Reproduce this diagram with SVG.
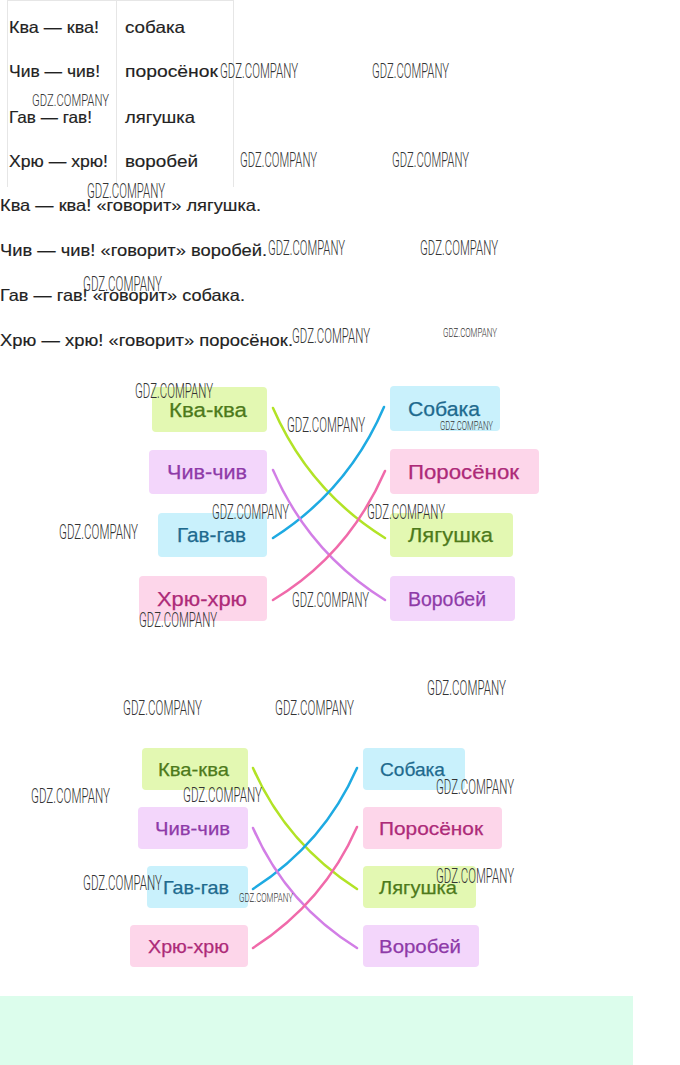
<svg xmlns="http://www.w3.org/2000/svg" width="680" height="1065" viewBox="0 0 680 1065">
<defs>
<style>
.t{font-family:"Liberation Sans",Arial,sans-serif;font-size:16.5px;fill:#222;stroke:#222;stroke-width:0.15}
.lb{font-family:"Liberation Sans",Arial,sans-serif;font-size:20.5px;text-anchor:middle;stroke-width:0.25}
.lb2{font-family:"Liberation Sans",Arial,sans-serif;font-size:19px;text-anchor:middle;stroke-width:0.25}
.wm{font-family:Roboto,"DejaVu Sans",sans-serif;font-weight:300;font-size:21px;fill:#333}
.wms{font-family:Roboto,"DejaVu Sans",sans-serif;font-weight:300;font-size:13px;fill:#333}
.g{fill:#e3f8b2}.p{fill:#f3d6fb}.c{fill:#c9f1fc}.k{fill:#fdd6ea}
.cg{fill:#4d7a1b;stroke:#4d7a1b}.cp{fill:#8e3aa8;stroke:#8e3aa8}.cc{fill:#1e6a8e;stroke:#1e6a8e}.ck{fill:#ad2a78;stroke:#ad2a78}
.ln{fill:none;stroke-width:2.5;stroke-linecap:round}
.lg{stroke:#b2e326}.lbl{stroke:#1eaae2}.lpu{stroke:#d27ee6}.lpk{stroke:#f06aaa}
.grid{stroke:#e6e6e6;stroke-width:1}
</style>
</defs>
<rect width="680" height="1065" fill="#fff"/>

<g id="table">
<line class="grid" x1="7" y1="0.5" x2="233" y2="0.5"/>
<line class="grid" x1="7.5" y1="0" x2="7.5" y2="187"/>
<line class="grid" x1="116.5" y1="0" x2="116.5" y2="187"/>
<line class="grid" x1="233.5" y1="0" x2="233.5" y2="187"/>
<text class="t" x="9" y="33" textLength="90" lengthAdjust="spacingAndGlyphs">Ква — ква!</text>
<text class="t" x="9" y="77" textLength="91" lengthAdjust="spacingAndGlyphs">Чив — чив!</text>
<text class="t" x="9" y="123" textLength="83" lengthAdjust="spacingAndGlyphs">Гав — гав!</text>
<text class="t" x="9" y="167" textLength="99" lengthAdjust="spacingAndGlyphs">Хрю — хрю!</text>
<text class="t" x="125" y="33" textLength="60" lengthAdjust="spacingAndGlyphs">собака</text>
<text class="t" x="125" y="77" textLength="93" lengthAdjust="spacingAndGlyphs">поросёнок</text>
<text class="t" x="125" y="123" textLength="70" lengthAdjust="spacingAndGlyphs">лягушка</text>
<text class="t" x="125" y="167" textLength="73" lengthAdjust="spacingAndGlyphs">воробей</text>
</g>

<g id="sentences">
<text class="t" x="0" y="211" textLength="261" lengthAdjust="spacingAndGlyphs">Ква — ква! «говорит» лягушка.</text>
<text class="t" x="0" y="256" textLength="267" lengthAdjust="spacingAndGlyphs">Чив — чив! «говорит» воробей.</text>
<text class="t" x="0" y="301" textLength="245" lengthAdjust="spacingAndGlyphs">Гав — гав! «говорит» собака.</text>
<text class="t" x="0" y="346" textLength="293" lengthAdjust="spacingAndGlyphs">Хрю — хрю! «говорит» поросёнок.</text>
</g>

<g id="connectors1">
<path class="ln lg" d="M273,408 C300,470 340,510 385,538"/>
<path class="ln lbl" d="M384,407 C357,470 317,510 273,538"/>
<path class="ln lpu" d="M273,470 C300,532 340,572 385,600"/>
<path class="ln lpk" d="M385,471 C358,533 318,573 273,600"/>
</g>

<g id="kva1"><rect class="g" x="152" y="387" width="115" height="45" rx="4"/><text class="lb cg" x="208" y="416.5" textLength="78" lengthAdjust="spacingAndGlyphs">Ква-ква</text></g>
<g id="chiv1"><rect class="p" x="149" y="450" width="118" height="44" rx="4"/><text class="lb cp" x="207" y="479" textLength="80" lengthAdjust="spacingAndGlyphs">Чив-чив</text></g>
<g id="gav1"><rect class="c" x="158" y="513" width="109" height="44" rx="4"/><text class="lb cc" x="211.5" y="542" textLength="69" lengthAdjust="spacingAndGlyphs">Гав-гав</text></g>
<g id="khryu1"><rect class="k" x="139" y="576" width="128" height="45" rx="4"/><text class="lb ck" x="202" y="605.5" textLength="90" lengthAdjust="spacingAndGlyphs">Хрю-хрю</text></g>
<g id="sobaka1"><rect class="c" x="390" y="386" width="110" height="45" rx="4"/><text class="lb cc" x="444" y="415.5" textLength="72" lengthAdjust="spacingAndGlyphs">Собака</text></g>
<g id="porosenok1"><rect class="k" x="390" y="449" width="149" height="45" rx="4"/><text class="lb ck" x="463.5" y="478.5" textLength="111" lengthAdjust="spacingAndGlyphs">Поросёнок</text></g>
<g id="lyagushka1"><rect class="g" x="390" y="513" width="123" height="44" rx="4"/><text class="lb cg" x="450.5" y="542" textLength="85" lengthAdjust="spacingAndGlyphs">Лягушка</text></g>
<g id="vorobey1"><rect class="p" x="390" y="576" width="125" height="45" rx="4"/><text class="lb cp" x="447" y="605.5" textLength="78" lengthAdjust="spacingAndGlyphs">Воробей</text></g>

<g id="connectors2">
<path class="ln lg" d="M253,768 C278,825 315,862 357,889"/>
<path class="ln lbl" d="M357,768 C332,825 295,862 253,889"/>
<path class="ln lpu" d="M253,828 C278,885 315,922 357,948"/>
<path class="ln lpk" d="M357,827 C332,884 295,921 253,948"/>
</g>

<g id="kva2"><rect class="g" x="142" y="748" width="106" height="42" rx="4"/><text class="lb2 cg" x="193.5" y="776" textLength="71" lengthAdjust="spacingAndGlyphs">Ква-ква</text></g>
<g id="chiv2"><rect class="p" x="138" y="807" width="110" height="42" rx="4"/><text class="lb2 cp" x="192.5" y="835" textLength="75" lengthAdjust="spacingAndGlyphs">Чив-чив</text></g>
<g id="gav2"><rect class="c" x="147" y="866" width="101" height="42" rx="4"/><text class="lb2 cc" x="196" y="894" textLength="66" lengthAdjust="spacingAndGlyphs">Гав-гав</text></g>
<g id="khryu2"><rect class="k" x="130" y="925" width="118" height="42" rx="4"/><text class="lb2 ck" x="188.5" y="953" textLength="81" lengthAdjust="spacingAndGlyphs">Хрю-хрю</text></g>
<g id="sobaka2"><rect class="c" x="363" y="748" width="102" height="42" rx="4"/><text class="lb2 cc" x="412.5" y="776" textLength="65" lengthAdjust="spacingAndGlyphs">Собака</text></g>
<g id="porosenok2"><rect class="k" x="363" y="807" width="139" height="42" rx="4"/><text class="lb2 ck" x="431" y="835" textLength="104" lengthAdjust="spacingAndGlyphs">Поросёнок</text></g>
<g id="lyagushka2"><rect class="g" x="363" y="866" width="113" height="42" rx="4"/><text class="lb2 cg" x="418" y="894" textLength="78" lengthAdjust="spacingAndGlyphs">Лягушка</text></g>
<g id="vorobey2"><rect class="p" x="363" y="925" width="116" height="42" rx="4"/><text class="lb2 cp" x="420" y="953" textLength="82" lengthAdjust="spacingAndGlyphs">Воробей</text></g>

<rect id="green-band" x="0" y="996" width="633" height="69" fill="#dcfdec"/>

<g id="watermarks">
<text class="wm" x="220" y="78" textLength="78" lengthAdjust="spacingAndGlyphs">GDZ.COMPANY</text>
<text class="wm" x="372" y="78" textLength="77" lengthAdjust="spacingAndGlyphs">GDZ.COMPANY</text>
<text class="wm" x="240" y="167" textLength="77" lengthAdjust="spacingAndGlyphs">GDZ.COMPANY</text>
<text class="wm" x="392" y="167" textLength="77" lengthAdjust="spacingAndGlyphs">GDZ.COMPANY</text>
<text class="wm" x="32" y="106" textLength="77" lengthAdjust="spacingAndGlyphs" style="font-size:17px">GDZ.COMPANY</text>
<text class="wm" x="87" y="198" textLength="78" lengthAdjust="spacingAndGlyphs">GDZ.COMPANY</text>
<text class="wm" x="268" y="255" textLength="77" lengthAdjust="spacingAndGlyphs">GDZ.COMPANY</text>
<text class="wm" x="420" y="255" textLength="78" lengthAdjust="spacingAndGlyphs">GDZ.COMPANY</text>
<text class="wm" x="83" y="291" textLength="79" lengthAdjust="spacingAndGlyphs">GDZ.COMPANY</text>
<text class="wm" x="292" y="343" textLength="78" lengthAdjust="spacingAndGlyphs">GDZ.COMPANY</text>
<text class="wms" x="443" y="337" textLength="54" lengthAdjust="spacingAndGlyphs">GDZ.COMPANY</text>
<text class="wm" x="135" y="398" textLength="78" lengthAdjust="spacingAndGlyphs">GDZ.COMPANY</text>
<text class="wm" x="287" y="432" textLength="78" lengthAdjust="spacingAndGlyphs">GDZ.COMPANY</text>
<text class="wms" x="440" y="430" textLength="53" lengthAdjust="spacingAndGlyphs">GDZ.COMPANY</text>
<text class="wm" x="212" y="519" textLength="77" lengthAdjust="spacingAndGlyphs">GDZ.COMPANY</text>
<text class="wm" x="367" y="519" textLength="78" lengthAdjust="spacingAndGlyphs">GDZ.COMPANY</text>
<text class="wm" x="59" y="539" textLength="79" lengthAdjust="spacingAndGlyphs">GDZ.COMPANY</text>
<text class="wm" x="292" y="607" textLength="77" lengthAdjust="spacingAndGlyphs">GDZ.COMPANY</text>
<text class="wm" x="139" y="627" textLength="78" lengthAdjust="spacingAndGlyphs">GDZ.COMPANY</text>
<text class="wm" x="427" y="695" textLength="79" lengthAdjust="spacingAndGlyphs">GDZ.COMPANY</text>
<text class="wm" x="123" y="715" textLength="79" lengthAdjust="spacingAndGlyphs">GDZ.COMPANY</text>
<text class="wm" x="275" y="715" textLength="79" lengthAdjust="spacingAndGlyphs">GDZ.COMPANY</text>
<text class="wm" x="31" y="803" textLength="79" lengthAdjust="spacingAndGlyphs">GDZ.COMPANY</text>
<text class="wm" x="183" y="802" textLength="79" lengthAdjust="spacingAndGlyphs">GDZ.COMPANY</text>
<text class="wm" x="436" y="794" textLength="78" lengthAdjust="spacingAndGlyphs">GDZ.COMPANY</text>
<text class="wm" x="83" y="890" textLength="79" lengthAdjust="spacingAndGlyphs">GDZ.COMPANY</text>
<text class="wms" x="239" y="902" textLength="54" lengthAdjust="spacingAndGlyphs">GDZ.COMPANY</text>
<text class="wm" x="436" y="883" textLength="78" lengthAdjust="spacingAndGlyphs">GDZ.COMPANY</text>
</g>
</svg>
